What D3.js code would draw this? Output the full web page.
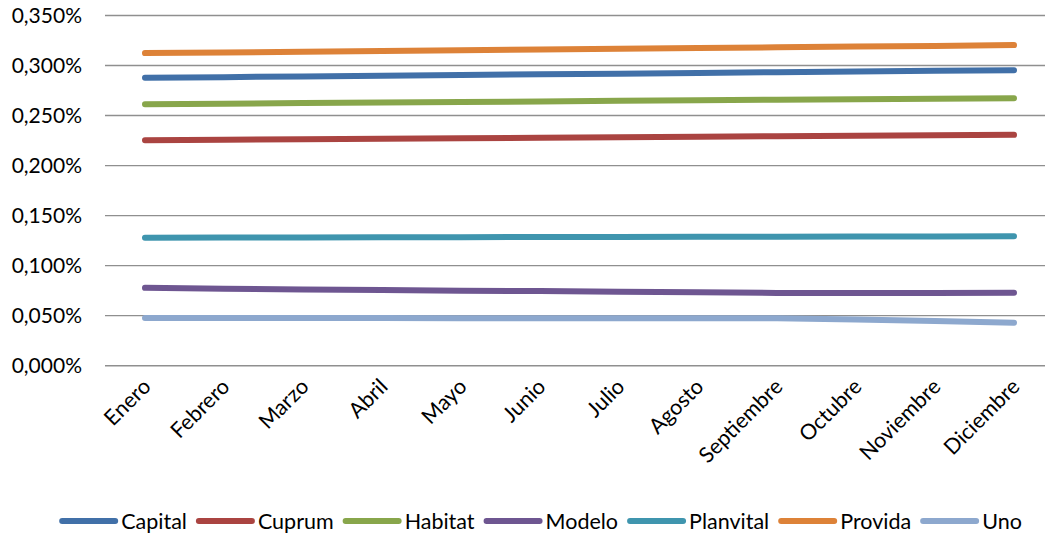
<!DOCTYPE html>
<html><head><meta charset="utf-8">
<script src="https://cdn.jsdelivr.net/npm/d3@7"></script>
<style>
html,body{margin:0;padding:0;background:#fff;}
svg{display:block;}
text{font-family:Lato,"Open Sans",sans-serif;fill:#000;}
</style></head>
<body>
<svg id="chart" width="1045" height="536"></svg>
<script>
const months = ["Enero","Febrero","Marzo","Abril","Mayo","Junio","Julio","Agosto","Septiembre","Octubre","Noviembre","Diciembre"];
const seriesNames = ["Capital","Cuprum","Habitat","Modelo","Planvital","Provida","Uno"];
const capital   = [0.2877,0.2884,0.2891,0.2898,0.2905,0.2912,0.2919,0.2926,0.2933,0.2940,0.2947,0.2954];
const cuprum    = [0.2254,0.2259,0.2264,0.2269,0.2274,0.2278,0.2283,0.2288,0.2293,0.2297,0.2302,0.2307];
const habitat   = [0.2614,0.2619,0.2625,0.2630,0.2636,0.2641,0.2647,0.2652,0.2658,0.2663,0.2669,0.2674];
const modelo    = [0.0778,0.0770,0.0762,0.0756,0.0750,0.0746,0.0740,0.0734,0.0727,0.0726,0.0726,0.0728];
const planvital = [0.1280,0.1281,0.1282,0.1284,0.1285,0.1286,0.1287,0.1288,0.1289,0.1291,0.1292,0.1294];
const provida   = [0.3124,0.3131,0.3138,0.3146,0.3153,0.3160,0.3167,0.3174,0.3182,0.3189,0.3196,0.3204];
const uno       = [0.0477,0.0476,0.0476,0.0476,0.0475,0.0475,0.0475,0.0474,0.0474,0.0462,0.0447,0.0430];
const yTicks = [0,0.05,0.10,0.15,0.20,0.25,0.30,0.35];
const colors = ["#4170A8","#AA4441","#88A64B","#6E5691","#3F95AE","#DD8238","#8DA8CE"];
const seriesValues = [capital,cuprum,habitat,modelo,planvital,provida,uno];

const svg = d3.select("#chart");
const x = d3.scaleBand().domain(months).range([105.5,1053.5]);
const y = d3.scaleLinear().domain([0,0.35]).range([365.7,15.5]);
const fmt = v => v.toFixed(3).replace(".", ",") + "%";

// gridlines
svg.append("g").selectAll("line").data(yTicks).join("line")
  .attr("x1",105).attr("x2",1045)
  .attr("y1",d=>y(d)).attr("y2",d=>y(d))
  .attr("stroke","#8f8f8f").attr("stroke-width",1.4);

// y labels
svg.append("g").selectAll("text").data(yTicks).join("text")
  .attr("x",82).attr("y",d=>y(d)).attr("dy","0.36em")
  .attr("text-anchor","end").attr("font-size","21px")
  .text(fmt);

// x labels
svg.append("g").selectAll("text").data(months).join("text")
  .attr("text-anchor","end").attr("font-size","21.5px")
  .attr("transform",d=>`translate(${x(d)+x.bandwidth()/2+7},${388}) rotate(-45)`)
  .text(d=>d);

// lines
const line = d3.line().x((d,i)=>x(months[i])+x.bandwidth()/2).y(d=>y(d));
svg.append("g").selectAll("path").data(seriesValues).join("path")
  .attr("d",d=>line(d)).attr("fill","none")
  .attr("stroke",(d,i)=>colors[i]).attr("stroke-width",6)
  .attr("stroke-linecap","round").attr("stroke-linejoin","round");

// legend
const lg = svg.append("g");
let cx = 0;
seriesNames.forEach((n,i)=>{
  const g = lg.append("g");
  g.append("line").attr("x1",0).attr("x2",53).attr("y1",0).attr("y2",0)
    .attr("stroke",colors[i]).attr("stroke-width",6).attr("stroke-linecap","round");
  const t = g.append("text").attr("x",59).attr("y",0).attr("dy","0.35em").attr("font-size","21.5px").text(n);
  const w = 59 + t.node().getComputedTextLength();
  g.attr("transform",`translate(${cx},521)`);
  cx += w + 12;
});
const total = cx - 12;
lg.attr("transform",`translate(${542 - total/2},0)`);
</script>
</body></html>
